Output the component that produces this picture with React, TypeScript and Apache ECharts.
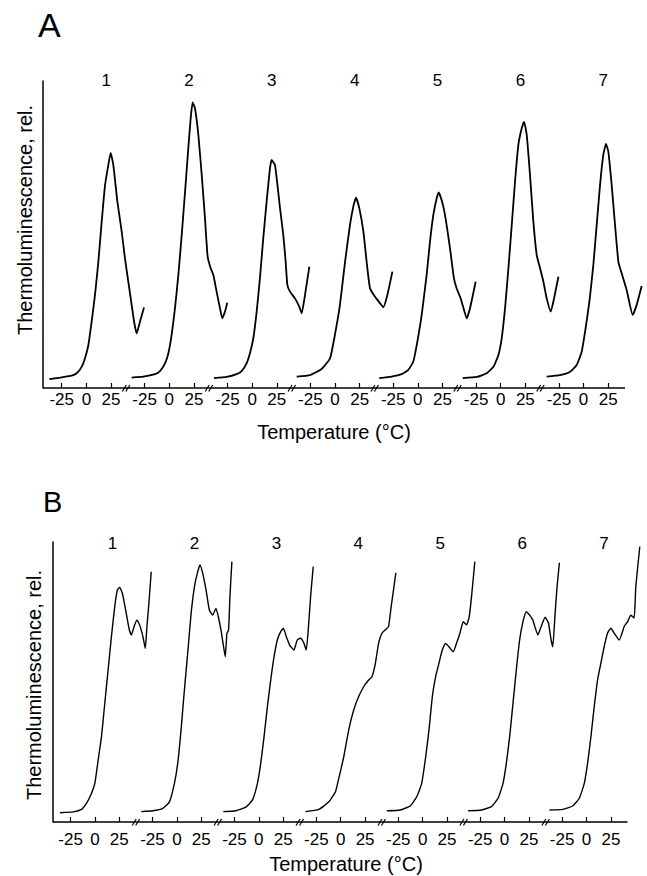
import React, { useEffect, useRef } from "react";
import * as echarts from "echarts";

const FONT = "'Liberation Sans', Arial, Helvetica, sans-serif";

// Each curve k is drawn on segment k of a broken axis: axis value = k * P + local temperature
const P = 84;
const tickTemps = [-25, 0, 25];
const curveNumbers = ["1", "2", "3", "4", "5", "6", "7"];
const xName = "Temperature (°C)";
const yName = "Thermoluminescence, rel.";

// Panel A curves: [local temperature °C, relative thermoluminescence]
const a1: [number, number][] = [[-37.6,2.9],[-26.8,3.4],[-14.9,4.0],[-9.9,4.8],[-4.8,6.9],[-1.4,9.7],[2.0,14.0],[5.3,21.6],[8.7,30.3],[12.1,41.1],[15.5,54.2],[18.9,66.1],[22.2,72.6],[24.6,76.6],[27.3,72.6],[31.4,60.7],[35.8,50.9],[39.1,42.2],[42.5,34.6],[45.9,27.0],[48.6,21.1],[51.0,17.8],[54.3,21.6],[58.4,26.2]];
const a2: [number, number][] = [[-38.1,3.4],[-26.3,3.7],[-14.5,4.5],[-9.4,5.5],[-4.3,8.0],[-0.9,11.3],[2.4,17.3],[5.8,26.0],[9.2,36.8],[12.6,49.8],[16.0,63.9],[19.3,78.1],[21.7,87.8],[23.7,93.0],[26.1,91.1],[29.5,82.4],[32.9,69.4],[36.2,55.3],[38.9,42.8],[42.0,39.0],[44.7,36.8],[48.0,31.4],[51.4,26.0],[53.8,22.7],[56.5,24.9],[58.8,27.8]];
const a3: [number, number][] = [[-38.7,3.2],[-25.8,3.6],[-15.7,4.5],[-10.6,5.5],[-5.6,8.0],[-2.2,11.3],[1.2,16.2],[4.6,24.9],[7.9,35.7],[11.3,48.8],[14.7,60.7],[18.1,71.6],[19.8,74.3],[23.2,72.6],[28.3,58.5],[31.6,49.8],[34.0,41.1],[35.7,33.6],[38.4,31.4],[43.4,29.2],[47.8,26.5],[50.2,24.3],[53.6,30.3],[58.0,39.5]];
const a4: [number, number][] = [[-38.8,3.7],[-25.3,4.2],[-13.5,6.2],[-5.0,9.7],[-0.1,17.3],[5.0,27.0],[10.2,41.1],[15.2,53.1],[18.6,59.1],[21.3,62.0],[24.7,58.5],[28.8,50.9],[32.1,41.1],[35.5,32.5],[40.6,29.7],[45.7,27.6],[49.0,26.3],[53.1,30.3],[58.2,37.9]];
const a5: [number, number][] = [[-39.1,3.2],[-26.6,3.7],[-16.4,4.5],[-9.7,5.9],[-4.6,8.6],[-0.5,15.1],[3.9,23.8],[8.9,36.8],[12.3,47.7],[15.7,56.4],[19.1,61.8],[21.1,63.7],[24.1,61.2],[27.5,56.4],[32.6,45.5],[36.6,35.7],[39.3,32.5],[43.4,29.2],[46.8,25.4],[49.5,22.7],[52.9,26.0],[58.6,34.6]];
const a6: [number, number][] = [[-38.5,3.2],[-24.3,3.6],[-14.2,4.8],[-7.4,6.9],[-2.4,10.7],[1.0,16.2],[4.4,26.0],[7.8,39.0],[11.2,53.1],[14.5,67.2],[17.9,79.2],[21.3,84.6],[23.7,86.7],[26.4,82.4],[29.7,69.4],[33.1,54.2],[36.5,43.3],[39.9,39.0],[43.3,34.6],[46.6,29.2],[50.7,24.9],[54.1,29.2],[58.5,36.3]];
const a7: [number, number][] = [[-37.4,3.7],[-23.9,4.2],[-13.7,5.3],[-7.0,7.5],[-1.9,11.8],[1.5,18.3],[5.9,28.1],[9.9,40.1],[13.3,53.1],[16.7,66.1],[20.0,75.9],[22.7,79.5],[25.1,77.0],[28.5,66.1],[31.9,53.1],[35.3,41.1],[38.6,37.4],[43.7,31.9],[49.8,23.8],[53.8,27.0],[58.9,33.2]];

// Panel B curves
const b1: [number, number][] = [[-35.9,3.3],[-22.2,3.6],[-13.7,4.5],[-8.6,6.7],[-3.5,10.3],[-0.1,13.8],[3.3,22.1],[6.7,30.5],[10.1,42.4],[13.5,54.3],[16.9,66.2],[20.3,76.9],[23.0,82.9],[25.4,83.8],[28.1,81.7],[31.5,75.7],[34.9,69.2],[37.3,66.8],[40.7,70.4],[43.1,72.1],[45.8,70.4],[49.2,66.2],[51.6,62.0],[53.3,69.8],[55.3,78.1],[57.7,89.4]];
const b2: [number, number][] = [[-36.5,3.7],[-24.6,4.0],[-14.4,4.9],[-7.6,7.2],[-2.5,13.8],[0.9,21.0],[4.3,32.9],[7.7,47.1],[11.1,60.3],[14.6,74.5],[18.0,84.0],[21.4,89.4],[23.7,91.8],[26.5,88.8],[29.9,82.9],[33.3,75.7],[36.7,73.9],[40.1,76.3],[42.5,73.3],[45.2,68.6],[47.6,63.2],[49.6,59.0],[51.3,67.4],[53.0,68.6],[54.4,80.5],[56.4,93.0]];
const b3: [number, number][] = [[-36.4,3.7],[-23.5,4.0],[-13.3,5.3],[-6.5,7.9],[-1.4,13.8],[2.0,21.0],[5.4,30.5],[8.8,41.2],[12.2,50.7],[15.6,59.0],[19.0,65.0],[22.4,68.0],[25.2,69.2],[28.2,66.2],[31.6,63.2],[36.0,61.4],[39.4,65.0],[42.8,65.6],[46.3,63.8],[48.6,61.4],[50.7,68.6],[53.1,80.5],[55.8,91.2]];
const b4: [number, number][] = [[-36.1,3.7],[-22.4,4.5],[-12.2,7.2],[-5.4,10.8],[-2.0,15.6],[3.1,23.3],[8.2,32.9],[13.3,40.0],[18.4,44.8],[23.5,48.3],[28.6,50.7],[32.0,51.9],[35.4,56.4],[38.8,63.8],[42.2,67.4],[45.6,68.6],[49.0,69.8],[51.7,76.9],[54.1,82.9],[56.5,89.0]];
const b5: [number, number][] = [[-36.7,4.0],[-23.1,4.3],[-12.9,5.7],[-6.1,9.0],[-1.0,13.8],[3.1,23.3],[6.5,32.9],[9.9,44.8],[13.3,51.9],[16.7,56.7],[20.1,61.4],[23.5,63.8],[26.9,62.6],[31.3,60.8],[34.7,63.8],[38.2,67.4],[41.6,71.5],[45.0,70.4],[47.7,73.3],[50.1,80.5],[53.5,93.0]];
const b6: [number, number][] = [[-37.4,4.0],[-23.7,4.3],[-13.5,5.5],[-6.7,8.5],[-1.6,13.8],[1.8,21.0],[5.2,30.5],[8.6,42.4],[12.0,54.3],[15.4,65.0],[18.8,71.5],[22.2,75.1],[25.6,73.9],[29.0,72.1],[34.1,66.8],[37.5,69.8],[41.6,73.1],[45.0,71.0],[47.7,65.0],[49.4,62.6],[51.8,74.5],[53.8,84.0],[56.2,92.6]];
const b7: [number, number][] = [[-38.0,4.3],[-24.4,4.5],[-14.2,5.7],[-7.4,8.5],[-2.3,13.8],[1.1,21.0],[4.5,30.5],[7.9,41.2],[11.3,50.7],[14.7,56.7],[18.1,62.6],[21.5,67.4],[24.9,69.2],[28.4,67.4],[33.5,65.0],[38.6,69.8],[42.0,71.5],[45.4,73.9],[48.8,72.8],[50.5,84.0],[54.6,98.3]];

const curvesA = [a1, a2, a3, a4, a5, a6, a7];
const curvesB = [b1, b2, b3, b4, b5, b6, b7];

// axis drawn from xMin to xEnd; scale extended to xExt so the last curve's tail is not cut
const panels = [
  {
    letter: "A", curves: curvesA,
    left: 43, top: 81, height: 307, pxPerUnit: 582 / 590,
    xMin: -44, xEnd: 546, xExt: 566, breakT: 41.5, labelT: 20, labelY: 100.3,
    curveWidth: 1.8, labelMargin: 3,
    letterPos: [38, 25], letterSize: 34, yNamePos: [24.5, 220], xNamePos: [334, 432],
  },
  {
    letter: "B", curves: curvesB,
    left: 53, top: 542, height: 280, pxPerUnit: 577 / 589,
    xMin: -43, xEnd: 546, xExt: 566, breakT: 43.3, labelT: 18, labelY: 99.5,
    curveWidth: 1.4, labelMargin: 9,
    letterPos: [43, 502], letterSize: 29, yNamePos: [34, 685], xNamePos: [346, 864],
  },
];

const tickValues: number[] = [];
curveNumbers.forEach((_, k) => tickTemps.forEach((t) => tickValues.push(k * P + t)));

function buildOption() {
  const grids: any[] = [];
  const xAxes: any[] = [];
  const yAxes: any[] = [];
  const series: any[] = [];
  const graphics: any[] = [];

  panels.forEach((pn, i) => {
    grids.push({
      left: pn.left, top: pn.top, height: pn.height,
      width: (pn.xExt - pn.xMin) * pn.pxPerUnit, containLabel: false,
    });
    xAxes.push({
      type: "value", gridIndex: i, min: pn.xMin, max: pn.xExt,
      axisLine: { show: false },
      axisTick: { show: true, inside: true, length: 5, customValues: tickValues, lineStyle: { color: "#000", width: 1.2 } },
      axisLabel: {
        show: true, customValues: tickValues, margin: pn.labelMargin,
        color: "#000", fontSize: 17, fontFamily: FONT,
        formatter: (v: number) => String(Math.round(v - Math.round(v / P) * P)),
      },
      splitLine: { show: false },
    });
    yAxes.push({
      type: "value", gridIndex: i, min: 0, max: 100,
      axisLine: { show: true, onZero: false, lineStyle: { color: "#000", width: 1.5 } },
      axisTick: { show: false }, axisLabel: { show: false }, splitLine: { show: false },
    });
    // visible x axis line
    series.push({
      type: "line", xAxisIndex: i, yAxisIndex: i, silent: true, clip: false,
      data: [[pn.xMin, 0], [pn.xEnd, 0]], symbol: "none",
      lineStyle: { color: "#000", width: 1.5 },
    });
    pn.curves.forEach((pts, k) => {
      series.push({
        type: "line", xAxisIndex: i, yAxisIndex: i, silent: true,
        data: pts.map(([t, y]) => [k * P + t, y]),
        symbol: "none", showSymbol: false, clip: false, smooth: 0.15,
        lineStyle: { color: "#000", width: pn.curveWidth },
      });
    });
    // curve numbers above each curve
    series.push({
      type: "custom", xAxisIndex: i, yAxisIndex: i, silent: true, clip: false,
      data: curveNumbers.map((_, k) => [k * P + pn.labelT, pn.labelY, k]),
      renderItem: (_p: any, api: any) => {
        const c = api.coord([api.value(0), api.value(1)]);
        return {
          type: "text", x: c[0], y: c[1],
          style: { text: curveNumbers[api.value(2)], font: `17px ${FONT}`, fill: "#000", align: "center", verticalAlign: "middle" },
        };
      },
    });
    // axis break marks
    series.push({
      type: "custom", xAxisIndex: i, yAxisIndex: i, silent: true, clip: false,
      data: curveNumbers.slice(0, -1).map((_, k) => [k * P + pn.breakT, 0]),
      renderItem: (_p: any, api: any) => {
        const c = api.coord([api.value(0), 0]);
        const x = c[0], y = c[1];
        return {
          type: "group",
          children: [
            { type: "line", shape: { x1: x - 5, y1: y + 3.5, x2: x - 1, y2: y - 3 }, style: { stroke: "#000", lineWidth: 1.2 } },
            { type: "line", shape: { x1: x - 1.5, y1: y + 3.5, x2: x + 2.5, y2: y - 3 }, style: { stroke: "#000", lineWidth: 1.2 } },
          ],
        };
      },
    });
    graphics.push({
      type: "text", x: pn.letterPos[0], y: pn.letterPos[1],
      style: { text: pn.letter, font: `${pn.letterSize}px ${FONT}`, fill: "#000", align: "left", verticalAlign: "middle" },
    });
    graphics.push({
      type: "text", x: pn.yNamePos[0], y: pn.yNamePos[1], rotation: Math.PI / 2,
      style: { text: yName, font: `20px ${FONT}`, fill: "#000", align: "center", verticalAlign: "middle" },
    });
    graphics.push({
      type: "text", x: pn.xNamePos[0], y: pn.xNamePos[1],
      style: { text: xName, font: `20px ${FONT}`, fill: "#000", align: "center", verticalAlign: "middle" },
    });
  });

  return {
    animation: false,
    backgroundColor: "#fff",
    grid: grids,
    xAxis: xAxes,
    yAxis: yAxes,
    series,
    graphic: graphics,
  };
}

export default function App() {
  const ref = useRef<HTMLDivElement>(null);
  useEffect(() => {
    document.body.style.margin = "0";
    const chart = echarts.init(ref.current as HTMLDivElement, null, { renderer: "svg" });
    chart.setOption(buildOption() as any);
    return () => chart.dispose();
  }, []);
  return <div ref={ref} style={{ width: 647, height: 876 }} />;
}
